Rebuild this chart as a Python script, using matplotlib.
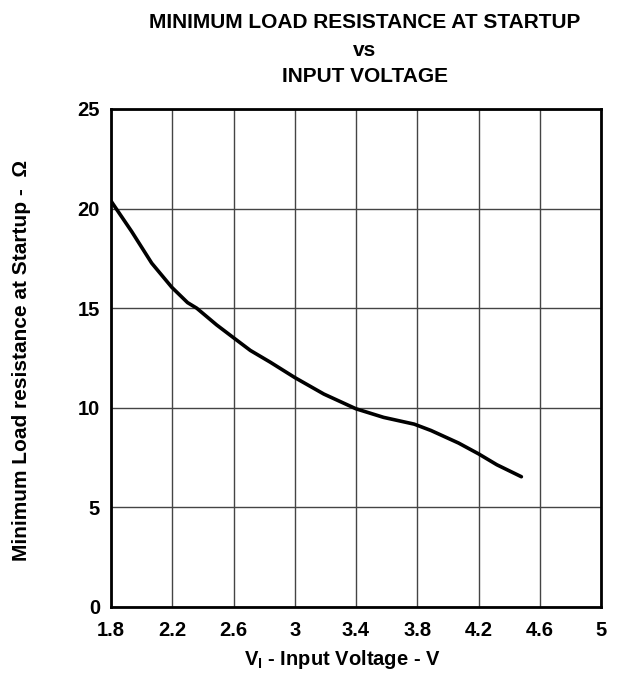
import matplotlib
matplotlib.use('Agg')
import matplotlib.pyplot as plt

plt.rcParams['font.family'] = ['Liberation Sans', 'DejaVu Sans']
plt.rcParams['font.weight'] = 'bold'
plt.rcParams['mathtext.fontset'] = 'custom'
plt.rcParams['mathtext.rm'] = 'Liberation Sans:bold'
plt.rcParams['mathtext.bf'] = 'Liberation Sans:bold'
plt.rcParams['mathtext.it'] = 'Liberation Sans:bold'

# curve
vin = [1.8, 1.935, 2.066, 2.197, 2.30, 2.36, 2.49, 2.598, 2.71, 2.84, 3.0,
       3.19, 3.40, 3.58, 3.78, 3.89, 4.07, 4.2, 4.32, 4.48]
rload = [20.38, 18.85, 17.26, 16.05, 15.28, 15.0, 14.16, 13.53, 12.88, 12.29, 11.52,
         10.69, 9.95, 9.52, 9.18, 8.86, 8.23, 7.69, 7.14, 6.54]

xticks = [1.8, 2.2, 2.6, 3.0, 3.4, 3.8, 4.2, 4.6, 5.0]
xlabels = ['1.8', '2.2', '2.6', '3', '3.4', '3.8', '4.2', '4.6', '5']
yticks = [0, 5, 10, 15, 20, 25]

fig = plt.figure(figsize=(6.34, 6.73), dpi=100)
ax = fig.add_axes([111/634, 1 - 607/673, 490/634, 498/673])

ax.plot(vin, rload, color='black', lw=2.6, solid_capstyle='round')

ax.set_xlim(1.8, 5.0)
ax.set_ylim(0, 25)
ax.set_xticks(xticks)
ax.set_xticklabels(xlabels)
ax.set_yticks(yticks)
ax.tick_params(length=0, labelsize=14.5)
ax.tick_params(axis='x', pad=10)
ax.tick_params(axis='y', pad=8)
ax.grid(True, color='#444444', lw=1.0)
for s in ax.spines.values():
    s.set_linewidth(2)

ax.set_xlabel(r'$\mathbf{V_I}$ - Input Voltage - V', fontsize=14.5, fontweight='bold')
ax.xaxis.set_label_coords((342 - 111) / 490, -41/498)
ax.set_ylabel('Minimum Load resistance at Startup -  \u03a9', fontsize=15, fontweight='bold')
ax.yaxis.set_label_coords(-80/490, (607 - 360) / 498)

fig.text(365/634, 1 - 22/673, 'MINIMUM LOAD RESISTANCE AT STARTUP', ha='center', va='center', fontsize=15, fontweight='bold')
fig.text(365/634, 1 - 50/673, 'vs', ha='center', va='center', fontsize=15, fontweight='bold')
fig.text(365/634, 1 - 76/673, 'INPUT VOLTAGE', ha='center', va='center', fontsize=15, fontweight='bold')

fig.savefig('out.png', dpi=100)
